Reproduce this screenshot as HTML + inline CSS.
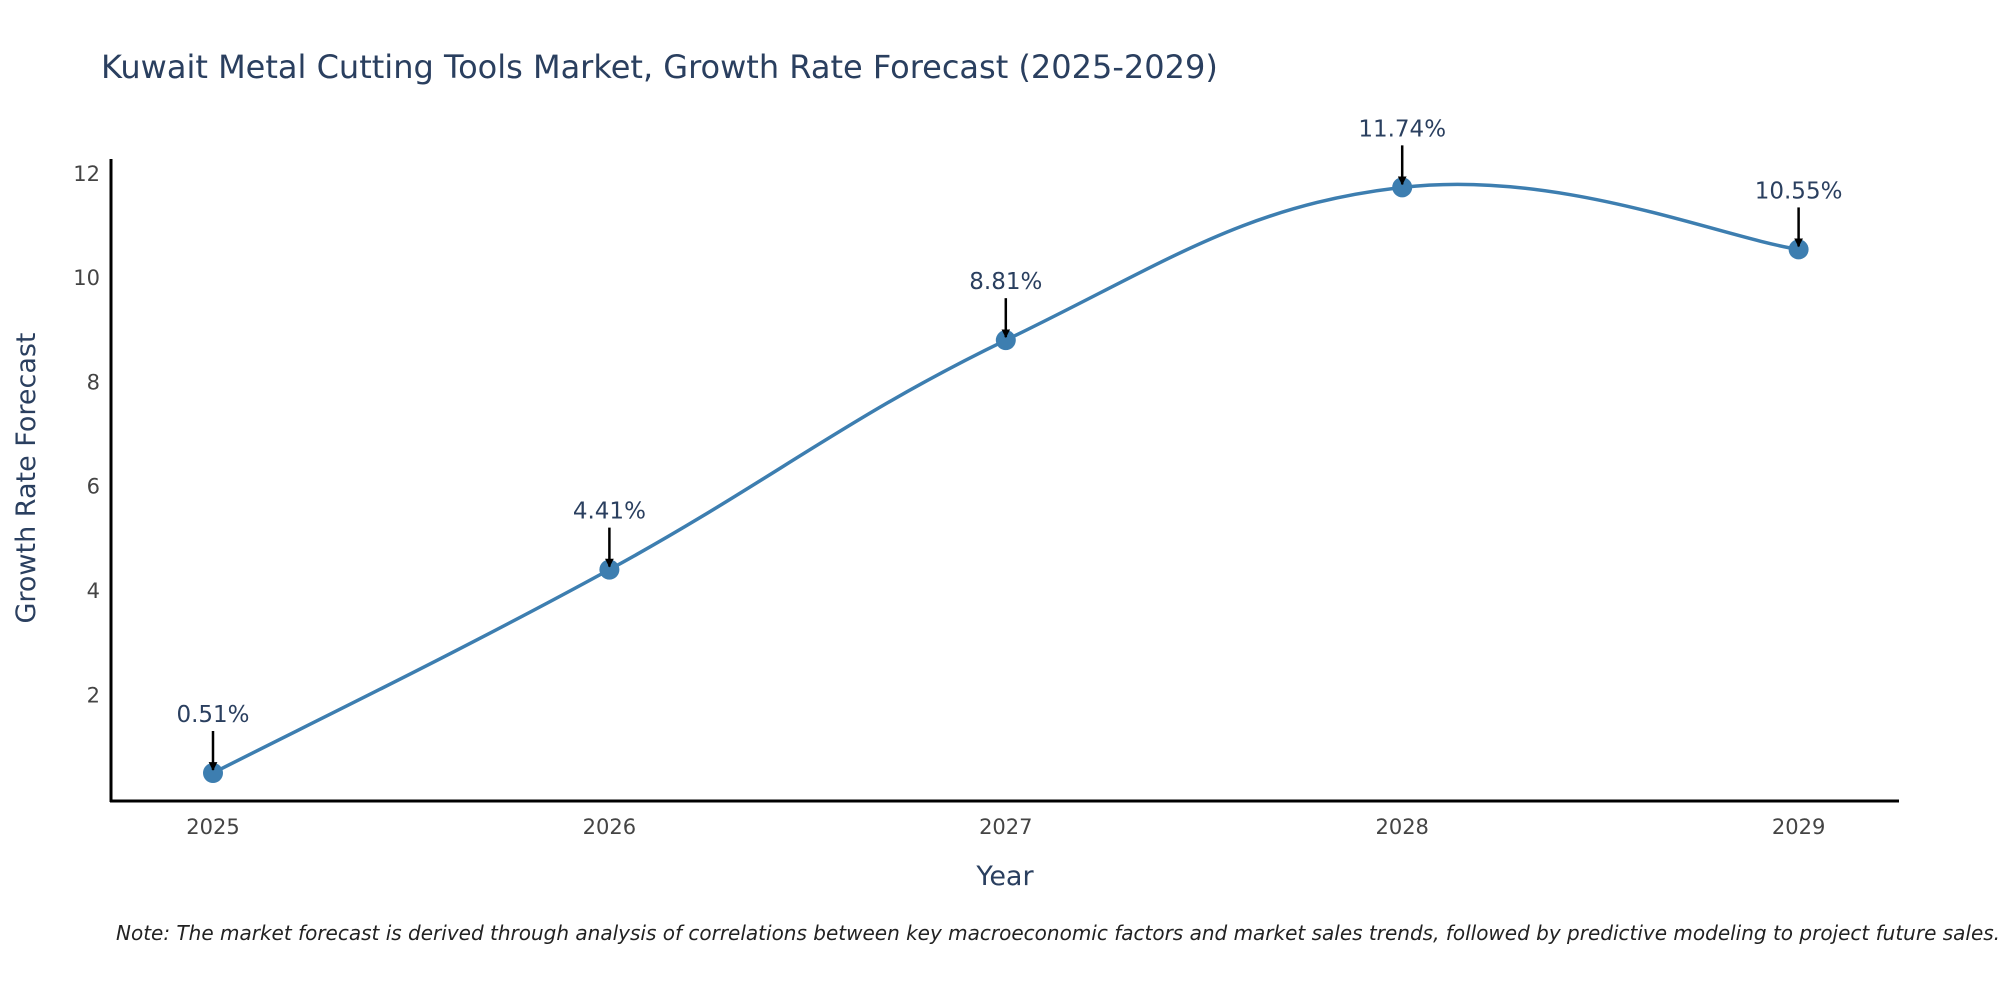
<!DOCTYPE html>
<html><head><meta charset="utf-8"><style>
body{margin:0;background:#fff;}
svg{display:block;font-family:"DejaVu Sans","Liberation Sans",sans-serif;}
</style></head><body>
<svg id="chart" width="2000" height="1000">
<defs><marker id="ah" viewBox="0 0 10 10" refX="9" refY="5" markerWidth="3.5" markerHeight="3.5" orient="auto"><path d="M0,0 L10,5 L0,10 z" fill="#000"/></marker></defs>
<text x="101" y="78" font-size="32" fill="#2a3f5f">Kuwait Metal Cutting Tools Market, Growth Rate Forecast (2025-2029)</text>
<g id="yticks"></g><g id="xticks"></g>
<line x1="111" y1="159" x2="111" y2="802" stroke="#000" stroke-width="3"/>
<line x1="110" y1="801" x2="1899" y2="801" stroke="#000" stroke-width="3"/>
<path id="line" fill="none" stroke="#3d7eb0" stroke-width="3.5"/>
<g id="marks"></g>
<text x="1005" y="885" font-size="27" fill="#2a3f5f" text-anchor="middle">Year</text>
<text transform="translate(35,478) rotate(-90)" font-size="27" fill="#2a3f5f" text-anchor="middle">Growth Rate Forecast</text>
<text x="116" y="940" font-size="20" font-style="italic" fill="#222">Note: The market forecast is derived through analysis of correlations between key macroeconomic factors and market sales trends, followed by predictive modeling to project future sales.</text>
</svg>
<script>
const years=[2025,2026,2027,2028,2029];
const values=[0.51,4.41,8.81,11.74,10.55];
const labels=["0.51%","4.41%","8.81%","11.74%","10.55%"];
const yTicks=[2,4,6,8,10,12];
const NS="http://www.w3.org/2000/svg";
function xs(v){return 213+(v-2025)*396.4;}
function ys(v){return 799.6-v*52.15;}
function mk(t,a,p){const e=document.createElementNS(NS,t);for(const k in a)e.setAttribute(k,a[k]);p.appendChild(e);return e;}
const yt=document.getElementById('yticks');
yTicks.forEach(t=>{const e=mk('text',{x:100,y:ys(t)+7,'font-size':21,fill:'#444','text-anchor':'end'},yt);


e.textContent=t;});
const xt=document.getElementById('xticks');
years.forEach(y=>{const e=mk('text',{x:xs(y),y:834,'font-size':21,fill:'#444','text-anchor':'middle'},xt);


e.textContent=y;});
const P=years.map((y,i)=>[xs(y),ys(values[i])]);
let d='M'+P[0][0]+','+P[0][1];const s=0.2;
for(let i=0;i<P.length-1;i++){const p0=P[Math.max(i-1,0)],p1=P[i],p2=P[i+1],p3=P[Math.min(i+2,P.length-1)];
const c1=[p1[0]+(p2[0]-p0[0])*s,p1[1]+(p2[1]-p0[1])*s],c2=[p2[0]-(p3[0]-p1[0])*s,p2[1]-(p3[1]-p1[1])*s];
d+=` C${c1[0]},${c1[1]} ${c2[0]},${c2[1]} ${p2[0]},${p2[1]}`;}
document.getElementById('line').setAttribute('d',d);
const g=document.getElementById('marks');
P.forEach((p,i)=>{const c=mk('circle',{cx:p[0],cy:p[1],r:10,fill:'#3d7eb0'},g);


const l=mk('line',{x1:p[0],y1:p[1]-42,x2:p[0],y2:p[1]-3,stroke:'#000','stroke-width':2.5,'marker-end':'url(#ah)'},g);


const t=mk('text',{x:p[0],y:p[1]-51,'font-size':23,fill:'#2a3f5f','text-anchor':'middle'},g);


t.textContent=labels[i];});
</script>
</body></html>
